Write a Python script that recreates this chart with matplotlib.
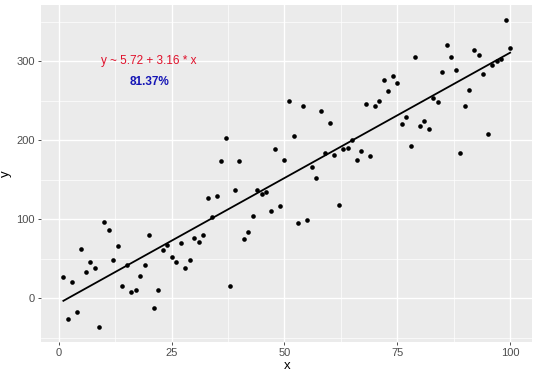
import numpy as np
import matplotlib
matplotlib.use("Agg")
import matplotlib.pyplot as plt
from matplotlib.ticker import MultipleLocator

# values (x = 1..100)
x = np.arange(1, 101)
y = np.array([
    27, -26, 21, -17, 62, 33, 46, 38, -36, 96,
    86, 49, 66, 15, 42, 8, 10, 28, 42, 80,
    -12, 11, 61, 67, 52, 46, 70, 38, 48, 76,
    71, 80, 127, 103, 129, 174, 203, 15, 137, 174,
    75, 84, 104, 137, 132, 135, 110, 189, 117, 175,
    250, 205, 95, 244, 99, 166, 152, 237, 184, 222,
    182, 118, 189, 190, 200, 175, 186, 246, 180, 244,
    250, 276, 263, 282, 273, 221, 229, 193, 305, 218,
    225, 214, 253, 249, 287, 321, 306, 289, 184, 244,
    264, 314, 308, 284, 208, 295, 300, 303, 352, 317,
])

formula_text = "y ~ 5.72 + 3.16 * x"
r2_text = "81.37%"
x_ticks = [0, 25, 50, 75, 100]
y_ticks = [0, 100, 200, 300]

plt.rcParams['font.family'] = ['Liberation Sans', 'DejaVu Sans']

fig = plt.figure(figsize=(5.4, 3.78), dpi=100)
ax = fig.add_axes([0.076, 0.095, 0.910, 0.892])
ax.set_facecolor('#EBEBEB')

# ggplot-like 5% expansion
xr = x.max() - x.min()
yr = y.max() - y.min()
ax.set_xlim(x.min() - 0.05 * xr, x.max() + 0.05 * xr)
ax.set_ylim(y.min() - 0.05 * yr, y.max() + 0.05 * yr)

ax.set_xticks(x_ticks)
ax.set_yticks(y_ticks)
ax.xaxis.set_minor_locator(MultipleLocator(12.5))
ax.yaxis.set_minor_locator(MultipleLocator(50))
ax.grid(which='major', color='white', linewidth=1.0)
ax.grid(which='minor', color='white', linewidth=0.5)
ax.set_axisbelow(True)
for s in ax.spines.values():
    s.set_visible(False)
ax.tick_params(which='major', length=2.5, width=0.6, color='#333333',
               labelsize=8, labelcolor='#4D4D4D', pad=2)
ax.tick_params(which='minor', length=0)

# linear fit line
slope, icpt = np.polyfit(x, y, 1)
xs = np.array([x.min(), x.max()])
ax.plot(xs, icpt + slope * xs, color='black', linewidth=1.3, zorder=2)

ax.scatter(x, y, s=11, color='black', zorder=3, linewidths=0)

ax.text(20, 300, formula_text, color='#E0102A', fontsize=8.5,
        ha='center', va='center')
ax.text(20, 274, r2_text, color='#1515B5', fontsize=8.5,
        fontweight='bold', ha='center', va='center')

ax.set_xlabel('x', fontsize=9.5, labelpad=1)
ax.set_ylabel('y', fontsize=9.5, labelpad=3)

fig.savefig('out.png', dpi=100)
